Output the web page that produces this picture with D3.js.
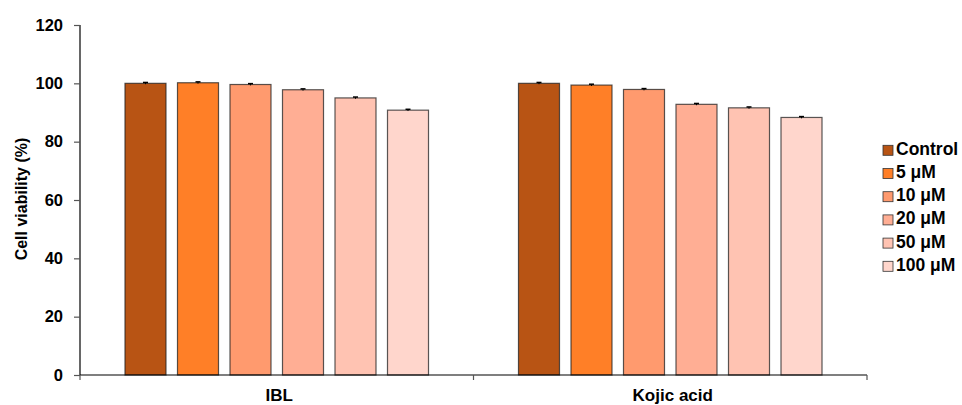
<!DOCTYPE html>
<html>
<head>
<meta charset="utf-8">
<script src="https://cdn.jsdelivr.net/npm/d3@7"></script>
<style>
  html, body { margin: 0; padding: 0; background: #fff; }
  svg { display: block; font-family: Arial, "Liberation Sans", sans-serif; }
</style>
</head>
<body>
<svg id="chart" width="962" height="405"></svg>
<script>
// Cell viability by treatment group and concentration
const groups = ["IBL", "Kojic acid"];
const series = ["Control", "5 \u03bcM", "10 \u03bcM", "20 \u03bcM", "50 \u03bcM", "100 \u03bcM"];
const iblValues   = [100.0, 100.2, 99.6, 97.8, 95.0, 90.8];
const kojicValues = [100.0, 99.4, 97.9, 92.8, 91.6, 88.3];
const iblErrors   = [0.3, 0.3, 0.3, 0.3, 0.3, 0.3];
const kojicErrors = [0.3, 0.3, 0.3, 0.3, 0.3, 0.3];
const yTicks = [0, 20, 40, 60, 80, 100, 120];
const colors = ["#B85414", "#FF7F27", "#FF9A6E", "#FFAE94", "#FFC3B2", "#FFD6CC"];

const groupValues = [iblValues, kojicValues];
const groupErrors = [iblErrors, kojicErrors];

const svg = d3.select("#chart");
const plotLeft = 80, plotRight = 867, plotTop = 25, plotBottom = 375;

const x0 = d3.scaleBand().domain(groups).range([plotLeft, plotRight]).paddingInner(0).paddingOuter(0);
const x1 = d3.scaleBand().domain(series).range([0, x0.bandwidth()]).paddingInner(0.219).paddingOuter(0.857);
const y = d3.scaleLinear().domain([0, 120]).range([plotBottom, plotTop]);

// Bars
groups.forEach((g, gi) => {
  const gEl = svg.append("g").attr("transform", `translate(${x0(g)},0)`);
  series.forEach((s, si) => {
    const v = groupValues[gi][si];
    const e = groupErrors[gi][si];
    const bx = x1(s), bw = x1.bandwidth();
    gEl.append("rect")
      .attr("x", bx).attr("y", y(v))
      .attr("width", bw).attr("height", y(0) - y(v))
      .attr("fill", colors[si])
      .attr("stroke", "#222").attr("stroke-opacity", 0.75).attr("stroke-width", 1.2);
    const cx = bx + bw / 2;
    gEl.append("line").attr("x1", cx).attr("x2", cx)
      .attr("y1", y(v + e)).attr("y2", y(v - e))
      .attr("stroke", "#000").attr("stroke-width", 1);
    gEl.append("line").attr("x1", cx - 2.5).attr("x2", cx + 2.5)
      .attr("y1", y(v + e)).attr("y2", y(v + e))
      .attr("stroke", "#000").attr("stroke-width", 1.5);
  });
});

// Y axis
const yAxis = d3.axisLeft(y).tickValues(yTicks).tickSize(6).tickPadding(11);
const yg = svg.append("g").attr("transform", `translate(${plotLeft},0)`).call(yAxis);
yg.select(".domain").attr("stroke", "#000").attr("stroke-width", 1.2).attr("d", `M0,${plotTop}V${plotBottom}`);
yg.selectAll(".tick line").attr("stroke", "#555").attr("stroke-width", 1.2);
yg.selectAll(".tick text").attr("font-size", 16.5).attr("font-weight", "bold").attr("fill", "#000")
  .attr("font-family", "Arial, 'Liberation Sans', sans-serif");

// X axis with ticks at group boundaries
const xg = svg.append("g");
xg.append("line").attr("x1", plotLeft).attr("x2", plotRight).attr("y1", plotBottom).attr("y2", plotBottom)
  .attr("stroke", "#000").attr("stroke-width", 1.2);
const boundaries = [plotLeft].concat(groups.map(g => x0(g) + x0.bandwidth()));
boundaries.forEach(bx => {
  xg.append("line").attr("x1", bx).attr("x2", bx).attr("y1", plotBottom).attr("y2", plotBottom + 5)
    .attr("stroke", "#555").attr("stroke-width", 1.2);
});
groups.forEach(g => {
  xg.append("text").attr("x", x0(g) + x0.bandwidth() / 2 + 2.5).attr("y", 401)
    .attr("text-anchor", "middle").attr("font-size", 17).attr("font-weight", "bold")
    .text(g);
});

// Y axis title
svg.append("text")
  .attr("transform", `translate(27,199) rotate(-90)`)
  .attr("text-anchor", "middle").attr("font-size", 16).attr("font-weight", "bold")
  .text("Cell viability (%)");

// Legend
const legend = svg.append("g").attr("transform", "translate(883,150.3)");
series.forEach((s, i) => {
  const row = legend.append("g").attr("transform", `translate(0,${i * 23.2})`);
  row.append("rect").attr("x", 0).attr("y", -5).attr("width", 10).attr("height", 10)
    .attr("fill", colors[i]).attr("stroke", "#333").attr("stroke-width", 0.8);
  row.append("text").attr("x", 13).attr("y", 4.5).attr("font-size", 17.5).attr("font-weight", "bold")
    .attr("dominant-baseline", "alphabetic").text(s);
});
</script>
</body>
</html>
